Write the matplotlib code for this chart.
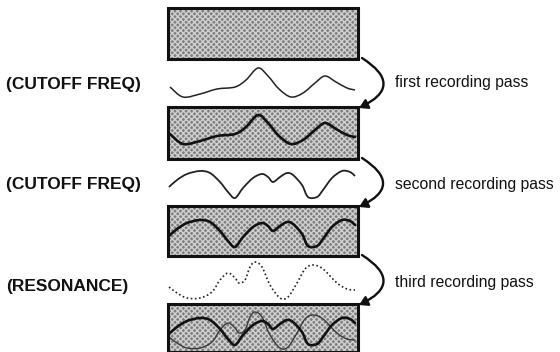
import matplotlib
matplotlib.use("Agg")
import matplotlib.pyplot as plt
from matplotlib.patches import Rectangle, FancyArrowPatch, PathPatch
from matplotlib.path import Path

# --- data (pixel-space readings from the reference) ---
left_labels = ["(CUTOFF FREQ)", "(CUTOFF FREQ)", "(RESONANCE)"]
left_label_y = [85, 184, 287]
right_labels = ["first recording pass", "second recording pass", "third recording pass"]
right_label_y = [82, 185, 283]

box_tops = [8, 107, 206, 304]
box_bottoms = [59, 159, 256, 352]
box_left, box_right = 168, 358

wave1_x = [170, 183, 200, 217, 235, 246, 258, 268, 279, 291, 303, 315, 325, 336, 347, 355]
wave1_y = [87, 97, 94, 89, 87, 80, 68, 76, 89, 97, 93, 83, 76, 82, 88, 90]

wave2_x = [169, 177, 187, 200, 210, 220, 228, 235, 243, 253, 262, 268, 273, 280, 287, 293,
           302, 308, 317, 323, 332, 342, 350, 355]
wave2_y = [187, 180, 174, 171, 173, 182, 192, 198, 188, 178, 174, 177, 182, 177, 173, 175,
           185, 197, 197, 190, 178, 171, 172, 176]

wave3_x = [169, 177, 187, 200, 212, 220, 228, 235, 239, 245, 250, 255, 262, 270, 280, 288,
           297, 305, 313, 323, 337, 347, 355]
wave3_y = [287, 293, 298, 298, 292, 280, 273, 278, 283, 280, 267, 262, 267, 285, 298, 297,
           283, 269, 265, 269, 283, 289, 290]

# offsets of wave copies recorded into boxes: (wave, shift, line width, colour)
box2_traces = [("w1", 47, 1.9, "#111111")]
box3_traces = [("w2", 49, 1.9, "#111111")]
box4_traces = [("w3", 50, 1.0, "#3a3a3a"), ("w2", 147, 1.9, "#111111")]

fig = plt.figure(figsize=(5.6, 3.52), dpi=100)
ax = fig.add_axes([0, 0, 1, 1])
ax.set_xlim(0, 560)
ax.set_ylim(352, 0)
ax.axis("off")

waves = {"w1": (wave1_x, wave1_y), "w2": (wave2_x, wave2_y), "w3": (wave3_x, wave3_y)}


def smooth_path(xs, ys, dy=0.0):
    """Catmull-Rom through the read points, rendered as cubic Bezier segments."""
    pts = [(x, y + dy) for x, y in zip(xs, ys)]
    verts = [pts[0]]
    codes = [Path.MOVETO]
    n = len(pts)
    for i in range(n - 1):
        p0 = pts[i - 1] if i > 0 else pts[i]
        p1 = pts[i]
        p2 = pts[i + 1]
        p3 = pts[i + 2] if i + 2 < n else pts[i + 1]
        c1 = (p1[0] + (p2[0] - p0[0]) / 6.0, p1[1] + (p2[1] - p0[1]) / 6.0)
        c2 = (p2[0] - (p3[0] - p1[0]) / 6.0, p2[1] - (p3[1] - p1[1]) / 6.0)
        verts += [c1, c2, p2]
        codes += [Path.CURVE4] * 3
    return Path(verts, codes)


# boxes
for t, b in zip(box_tops, box_bottoms):
    ax.add_patch(Rectangle((box_left, t), box_right - box_left, b - t,
                           facecolor="#7e7e7e", edgecolor="#d0d0d0", hatch="xxxxxx",
                           lw=0, zorder=1))
    ax.add_patch(Rectangle((box_left, t), box_right - box_left, b - t,
                           facecolor="none", edgecolor="#111111", lw=2.2, zorder=4))

for i, traces in enumerate([box2_traces, box3_traces, box4_traces], start=1):
    for key, dy, lw, col in traces:
        xs, ys = waves[key]
        p = PathPatch(smooth_path(xs, ys, dy), facecolor="none", edgecolor=col,
                      lw=lw, zorder=3, capstyle="round", joinstyle="round")
        ax.add_patch(p)
        clip = Rectangle((box_left, box_tops[i]), box_right - box_left,
                         box_bottoms[i] - box_tops[i], transform=ax.transData)
        p.set_clip_path(clip)

# free waves
ax.add_patch(PathPatch(smooth_path(wave1_x, wave1_y), facecolor="none",
                       edgecolor="#222222", lw=1.1, zorder=3))
ax.add_patch(PathPatch(smooth_path(wave2_x, wave2_y), facecolor="none",
                       edgecolor="#222222", lw=1.3, zorder=3))
ax.add_patch(PathPatch(smooth_path(wave3_x, wave3_y), facecolor="none",
                       edgecolor="#222222", lw=1.2, ls=(0, (1.0, 1.5)), zorder=3))

# curved arrows
for i in range(3):
    a = FancyArrowPatch((362, box_bottoms[i] - 1), (359, box_tops[i + 1] + 1),
                        connectionstyle="arc3,rad=-0.9",
                        arrowstyle="-|>,head_length=5,head_width=3",
                        color="#111111", lw=1.7, zorder=5, shrinkA=0, shrinkB=0)
    ax.add_patch(a)

# labels
for txt, y in zip(left_labels, left_label_y):
    ax.text(6, y, txt, fontsize=12.5, fontweight="bold", family="Liberation Sans",
            va="center", ha="left", color="#111111")
for txt, y in zip(right_labels, right_label_y):
    ax.text(395, y, txt, fontsize=11.3, family="Liberation Sans",
            va="center", ha="left", color="#111111")

fig.savefig("out.png", dpi=100)
